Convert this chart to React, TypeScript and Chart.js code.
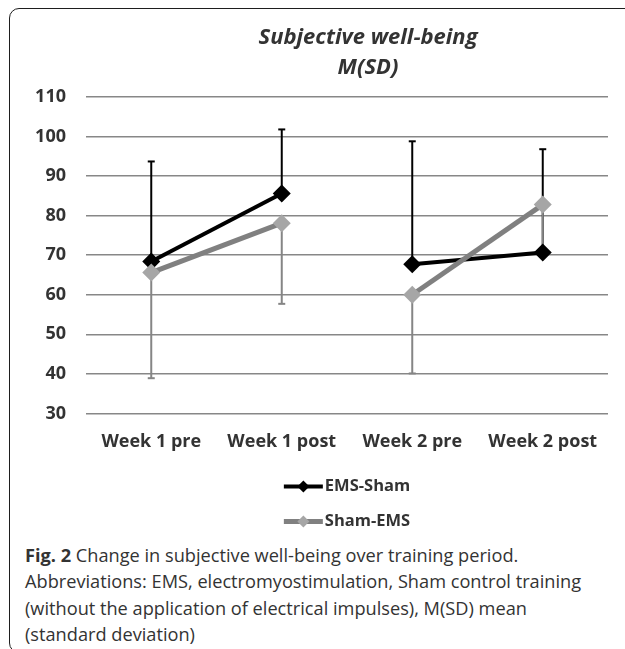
import React, { useEffect, useRef } from "react";
import { Chart, registerables } from "chart.js";

Chart.register(...registerables);

const categories = ["Week 1 pre", "Week 1 post", "Week 2 pre", "Week 2 post"];
const emsShamMean = [68.4, 85.6, 67.7, 70.7];
const emsShamSD = [25.3, 16.2, 31.1, 26.1]; // drawn upward
const shamEmsMean = [65.6, 78.1, 60.0, 82.8];
const shamEmsSD = [26.7, 20.4, 19.9, 11.8]; // drawn downward
const weekBreakAfter = 1; // no connecting line between Week 1 post and Week 2 pre
const yMin = 30;
const yMax = 110;
const yStep = 10;
const titleLines = ["Subjective well-being", "M(SD)"];
const seriesNames = ["EMS-Sham", "Sham-EMS"];

const FONT = "'Open Sans', 'DejaVu Sans', sans-serif";

const errorBarPlugin = {
  id: "errorBars",
  beforeDatasetsDraw(chart: any) {
    const ctx = chart.ctx;
    const y = chart.scales.y;
    const specs = [
      { ds: 0, sd: emsShamSD, dir: 1, color: "#000000" },
      { ds: 1, sd: shamEmsSD, dir: -1, color: "#858585" },
    ];
    ctx.save();
    for (const s of specs) {
      const meta = chart.getDatasetMeta(s.ds);
      const vals = chart.data.datasets[s.ds].data as number[];
      meta.data.forEach((pt: any, i: number) => {
        const y0 = y.getPixelForValue(vals[i]);
        const y1 = y.getPixelForValue(vals[i] + s.dir * s.sd[i]);
        ctx.strokeStyle = s.color;
        ctx.lineWidth = 2;
        ctx.beginPath();
        ctx.moveTo(pt.x, y0);
        ctx.lineTo(pt.x, y1);
        ctx.stroke();
        ctx.beginPath();
        ctx.moveTo(pt.x - 3.5, y1);
        ctx.lineTo(pt.x + 3.5, y1);
        ctx.stroke();
      });
    }
    ctx.restore();
  },
};

const titlePlugin = {
  id: "customTitle",
  afterDraw(chart: any) {
    const ctx = chart.ctx;
    const a = chart.chartArea;
    const cx = (a.left + a.right) / 2 + 21;
    ctx.save();
    ctx.fillStyle = "#333333";
    ctx.font = `italic bold 22px ${FONT}`;
    ctx.textAlign = "center";
    ctx.textBaseline = "middle";
    titleLines.forEach((t, i) => {
      ctx.fillText(t, cx, a.top - 59 + i * 30);
    });
    ctx.restore();
  },
};

const legendPlugin = {
  id: "customLegend",
  afterDraw(chart: any) {
    const ctx = chart.ctx;
    const a = chart.chartArea;
    ctx.save();
    ctx.font = `bold 16.5px ${FONT}`;
    const lineLen = 39;
    const gap = 2;
    const maxW = Math.max(
      ...chart.data.datasets.map((d: any) => ctx.measureText(d.label).width)
    );
    const blockW = lineLen + gap + maxW;
    const x0 = (a.left + a.right) / 2 - blockW / 2;
    chart.data.datasets.forEach((d: any, i: number) => {
      const yy = a.bottom + 73 + i * 35;
      ctx.strokeStyle = d.borderColor;
      ctx.lineWidth = d.borderWidth;
      ctx.beginPath();
      ctx.moveTo(x0, yy);
      ctx.lineTo(x0 + lineLen, yy);
      ctx.stroke();
      const mx = x0 + lineLen / 2;
      const r = 6;
      ctx.fillStyle = d.pointBackgroundColor;
      ctx.beginPath();
      ctx.moveTo(mx, yy - r);
      ctx.lineTo(mx + r, yy);
      ctx.lineTo(mx, yy + r);
      ctx.lineTo(mx - r, yy);
      ctx.closePath();
      ctx.fill();
      ctx.fillStyle = "#333333";
      ctx.textAlign = "left";
      ctx.textBaseline = "middle";
      ctx.fillText(d.label, x0 + lineLen + gap, yy);
    });
    ctx.restore();
  },
};

function segmentColor(color: string) {
  return (c: any) => (c.p0DataIndex === weekBreakAfter ? "rgba(0,0,0,0)" : color);
}

export default function App() {
  const ref = useRef<HTMLCanvasElement | null>(null);

  useEffect(() => {
    if (!ref.current) return;
    const chart = new Chart(ref.current, {
      type: "line",
      data: {
        labels: categories,
        datasets: [
          {
            label: seriesNames[0],
            data: emsShamMean,
            borderColor: "#000000",
            borderWidth: 4,
            segment: { borderColor: segmentColor("#000000") },
            pointStyle: "rectRot",
            pointRadius: 9,
            pointBackgroundColor: "#000000",
            pointBorderColor: "#000000",
            pointBorderWidth: 0,
            order: 1,
          },
          {
            label: seriesNames[1],
            data: shamEmsMean,
            borderColor: "#808080",
            borderWidth: 5,
            segment: { borderColor: segmentColor("#808080") },
            pointStyle: "rectRot",
            pointRadius: 9,
            pointBackgroundColor: "#a6a6a6",
            pointBorderColor: "#a6a6a6",
            pointBorderWidth: 0,
            order: 0,
          },
        ],
      },
      options: {
        animation: false,
        responsive: false,
        maintainAspectRatio: false,
        layout: { padding: { top: 97, right: 17, bottom: 69, left: 0 } },
        plugins: {
          legend: { display: false },
          title: { display: false },
          tooltip: { enabled: false },
        },
        scales: {
          x: {
            offset: true,
            grid: { display: false, drawTicks: false },
            border: { display: false },
            ticks: {
              padding: 18,
              color: "#333333",
              font: { family: FONT, size: 18, weight: "bold" },
              maxRotation: 0,
            },
          },
          y: {
            min: yMin,
            max: yMax,
            afterFit(scale: any) {
              scale.width = 86;
            },
            grid: { color: "#878787", lineWidth: 1.5, drawTicks: false },
            border: { display: false },
            ticks: {
              stepSize: yStep,
              padding: 20,
              color: "#333333",
              font: { family: FONT, size: 18, weight: "bold" },
            },
          },
        },
      },
      plugins: [errorBarPlugin, titlePlugin, legendPlugin],
    } as any);
    return () => chart.destroy();
  }, []);

  return (
    <div
      style={{
        position: "fixed",
        left: 0,
        top: 0,
        width: 625,
        height: 649,
        overflow: "hidden",
        background: "#ffffff",
      }}
    >
      <div
        style={{
          position: "absolute",
          left: 9,
          top: 8,
          width: 660,
          height: 645,
          border: "1.5px solid #1e1e1e",
          borderRadius: 10,
          boxSizing: "border-box",
        }}
      />
      <canvas
        ref={ref}
        width={625}
        height={540}
        style={{ position: "absolute", left: 0, top: 0, width: 625, height: 540 }}
      />
      <div
        style={{
          position: "absolute",
          left: 25,
          top: 542,
          width: 600,
          fontFamily: FONT,
          fontSize: 18.2,
          lineHeight: "26.3px",
          color: "#333333",
          whiteSpace: "nowrap",
        }}
      >
        <b>Fig. 2</b> Change in subjective well-being over training period.
        <br />
        Abbreviations: EMS, electromyostimulation, Sham control training
        <br />
        (without the application of electrical impulses), M(SD) mean
        <br />
        (standard deviation)
      </div>
    </div>
  );
}
